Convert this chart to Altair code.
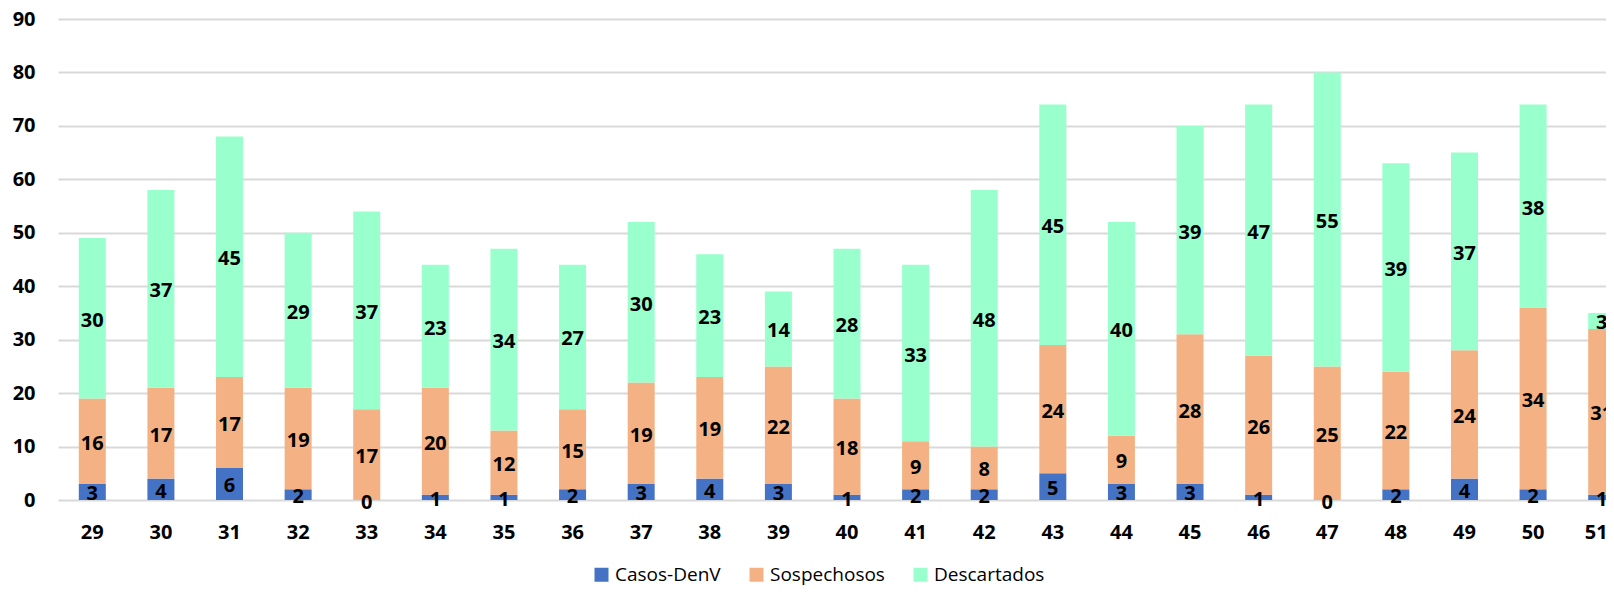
import altair as alt
import pandas as pd

weeks = ["29", "30", "31", "32", "33", "34", "35", "36", "37", "38", "39", "40",
         "41", "42", "43", "44", "45", "46", "47", "48", "49", "50", "51*"]
casos = [3, 4, 6, 2, 0, 1, 1, 2, 3, 4, 3, 1, 2, 2, 5, 3, 3, 1, 0, 2, 4, 2, 1]
sospechosos = [16, 17, 17, 19, 17, 20, 12, 15, 19, 19, 22, 18, 9, 8, 24, 9, 28, 26, 25, 22, 24, 34, 31]
descartados = [30, 37, 45, 29, 37, 23, 34, 27, 30, 23, 14, 28, 33, 48, 45, 40, 39, 47, 55, 39, 37, 38, 3]
series = ["Casos-DenV", "Sospechosos", "Descartados"]
colors = ["#4472C4", "#F4B183", "#99FFCC"]
y_ticks = [0, 10, 20, 30, 40, 50, 60, 70, 80, 90]

rows = []
for i, w in enumerate(weeks):
    for k, (name, vals) in enumerate(zip(series, [casos, sospechosos, descartados])):
        rows.append({"week": w, "serie": name, "order": k, "value": vals[i]})
df = pd.DataFrame(rows)

FONT = "Open Sans"

base = alt.Chart(df).transform_stack(
    stack="value", groupby=["week"], as_=["y0", "y1"],
    sort=[alt.SortField("order", order="ascending")]
).transform_calculate(mid="(datum.y0 + datum.y1) / 2")

# the category band extends past the visible right edge (last bar is cut off)
x_enc = alt.X(
    "week:N", sort=weeks,
    scale=alt.Scale(paddingInner=0, paddingOuter=0, range=[0, 1578]),
    axis=alt.Axis(title=None, labelAngle=0, ticks=False, domain=False,
                  labelPadding=22, labelFont=FONT, labelFontWeight="bold",
                  labelFontSize=20, labelColor="#000000"),
)
yscale = alt.Scale(domain=[0, 90], nice=False)

bars = base.mark_bar(size=27).encode(
    x=x_enc,
    y=alt.Y("y0:Q", scale=yscale,
            axis=alt.Axis(title=None, values=y_ticks, ticks=False, domain=False,
                          labelPadding=23, labelFont=FONT, labelFontWeight="bold",
                          labelFontSize=20, labelColor="#000000",
                          gridColor="#D9D9D9", gridWidth=2)),
    y2="y1:Q",
    color=alt.Color(
        "serie:N",
        scale=alt.Scale(domain=series, range=colors),
        legend=alt.Legend(title=None, orient="none", legendX=534, legendY=546,
                          direction="horizontal", symbolType="square",
                          symbolSize=196, symbolStrokeWidth=0,
                          labelFont=FONT, labelFontSize=19, labelColor="#000000",
                          columnPadding=26, labelOffset=4, padding=0),
    ),
)

labels = base.mark_text(font=FONT, fontWeight="bold", fontSize=20,
                        color="#000000", baseline="middle", dy=2.5).encode(
    x=alt.X("week:N", sort=weeks),
    y=alt.Y("mid:Q", scale=yscale),
    text="value:Q",
)

chart = alt.layer(bars, labels).configure_view(stroke=None).properties(
    width=1548, height=481,
    autosize=alt.AutoSizeParams(type="none"),
    padding={"left": 50, "top": 11, "right": 0, "bottom": 86},
)

chart.save("out.html", embed_options={"renderer": "svg", "actions": False})
